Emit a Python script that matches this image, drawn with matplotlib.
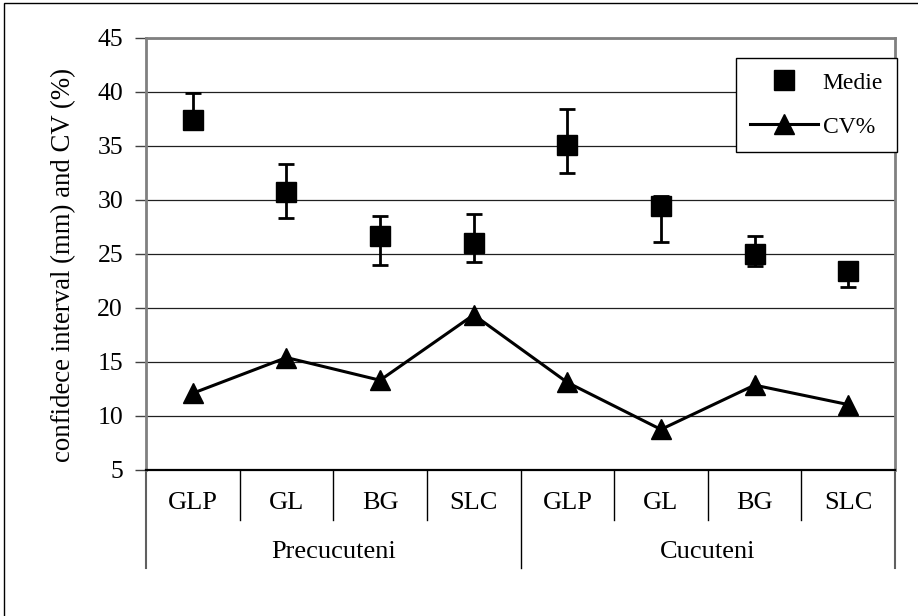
import matplotlib
matplotlib.use("Agg")
import matplotlib.pyplot as plt
from matplotlib.transforms import blended_transform_factory
from matplotlib.patches import Rectangle

# data
sites = ["GLP", "GL", "BG", "SLC", "GLP", "GL", "BG", "SLC"]
groups = ["Precucuteni", "Cucuteni"]
medie = [37.4, 30.7, 26.6, 26.0, 35.1, 29.4, 25.0, 23.4]
err_low = [37.0, 28.3, 24.0, 24.2, 32.5, 26.1, 23.9, 21.9]
err_high = [39.9, 33.3, 28.5, 28.7, 38.4, 30.3, 26.6, 24.0]
cv = [12.1, 15.4, 13.3, 19.35, 13.1, 8.75, 12.85, 11.05]

plt.rcParams["font.family"] = ["Liberation Serif", "DejaVu Serif"]

W, H = 918, 616
fig = plt.figure(figsize=(W / 100, H / 100), dpi=100)
L, R, T, B = 146, 895, 37.5, 470
ax = fig.add_axes([L / W, 1 - B / H, (R - L) / W, (B - T) / H])

x = [i + 0.5 for i in range(len(sites))]
yerr = [[m - lo for m, lo in zip(medie, err_low)],
        [hi - m for m, hi in zip(medie, err_high)]]

ax.errorbar(x, medie, yerr=yerr, fmt="none", ecolor="black",
            elinewidth=2, capsize=5.5, capthick=2, zorder=3)
ax.plot(x, medie, ls="none", marker="s", ms=15, color="black",
        label="Medie", zorder=4)
ax.plot(x, cv, color="black", lw=2.2, marker="^", ms=15,
        label="CV%", zorder=4)

ax.set_xlim(0, 8)
ax.set_ylim(5, 45)
ax.set_yticks(range(5, 50, 5))
ax.set_xticks([])
ax.tick_params(axis="y", labelsize=18.5, length=8, width=1, color="#404040",
               pad=8.5)
ax.yaxis.grid(True, color="#202020", lw=0.9)
ax.set_axisbelow(True)

for s in ["top", "right", "left"]:
    ax.spines[s].set_color("#808080")
    ax.spines[s].set_linewidth(2)
ax.spines["bottom"].set_color("black")
ax.spines["bottom"].set_linewidth(1.6)

# two-level category axis drawn below the plot
tr = blended_transform_factory(ax.transData, fig.transFigure)


def fy(py):
    return 1 - py / H


for i in range(1, 8):
    bottom = 568 if i == 4 else 520
    ax.plot([i, i], [fy(B), fy(bottom)], transform=tr, color="black",
            lw=1, clip_on=False)
for xe in (0, 8):
    ax.plot([xe, xe], [fy(B), fy(568)], transform=tr, color="#606060",
            lw=1.5, clip_on=False)
for xi, s in zip(x, sites):
    ax.text(xi, fy(503), s, transform=tr, ha="center", va="center",
            fontsize=19)
for gi, g in enumerate(groups):
    ax.text(2 + 4 * gi, fy(552), g, transform=tr, ha="center", va="center",
            fontsize=19)

fig.text(64 / W, fy(265.5), "confidece interval (mm) and CV (%)",
         rotation=90, ha="center", va="center", fontsize=19.3)

leg = ax.legend(loc="upper right", bbox_to_anchor=(1.003, (B - 58) / (B - T)),
                borderaxespad=0, fontsize=17, frameon=True, fancybox=False,
                edgecolor="black", framealpha=1, handlelength=2.85,
                handletextpad=0.21, labelspacing=0.95, borderpad=0.6)
leg.get_frame().set_linewidth(1)

# outer chart border
fig.patches.append(Rectangle((4 / W, -0.1), 1.2, 1.1 - 3 / H,
                             transform=fig.transFigure,
                             fill=False, edgecolor="black", lw=1))

fig.savefig("out.png", dpi=100)
